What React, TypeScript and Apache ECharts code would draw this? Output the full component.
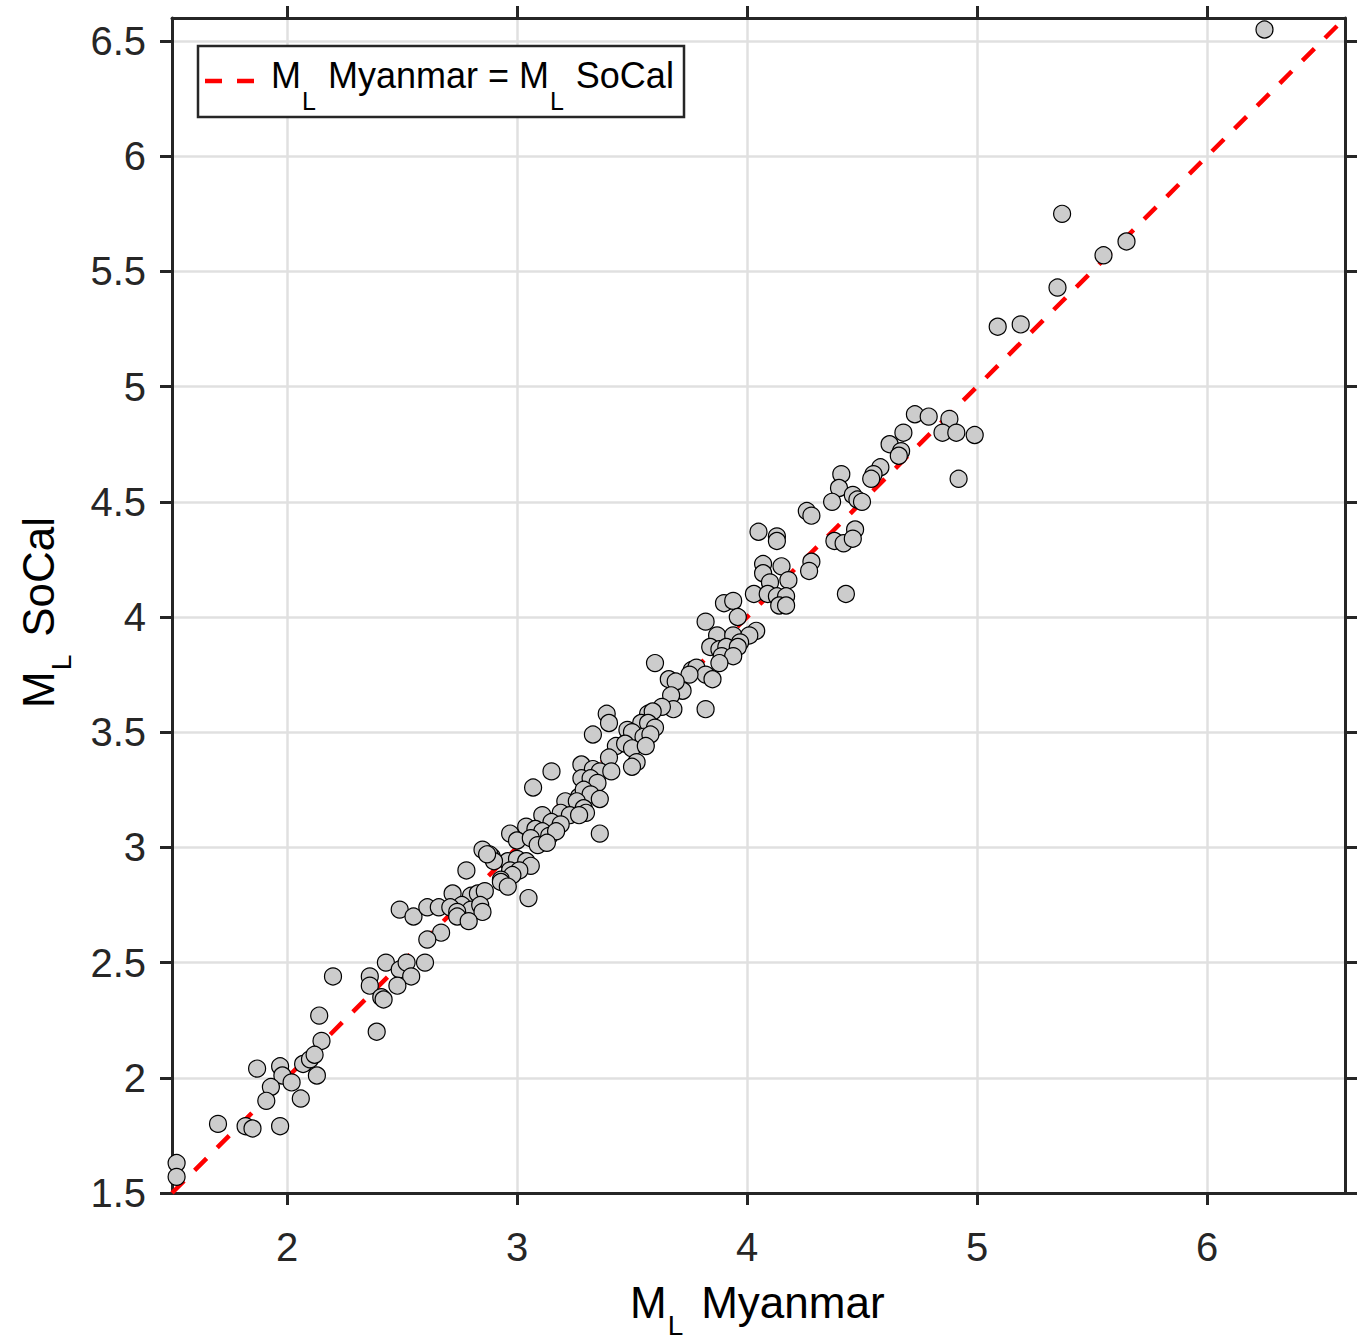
import { useEffect, useRef } from "react";
import * as echarts from "echarts";

// M_L Myanmar (x) and M_L SoCal (y)
const myanmar = [
  6.25, 5.37, 5.65, 5.55, 5.35, 5.09, 5.19, 4.73, 4.79, 4.88, 4.85, 4.91, 4.99, 4.92, 4.68, 4.62, 4.67, 4.66, 4.58, 4.55,
  4.54, 4.41, 4.4, 4.37, 4.46, 4.48, 4.5, 4.26, 4.28, 4.47, 4.05, 4.13, 4.13, 4.38, 4.42, 4.46, 4.28, 4.27, 4.07, 4.07,
  4.15, 4.18, 4.1, 4.03, 4.09, 4.13, 4.17, 4.14, 4.17, 4.43, 3.9, 3.94, 3.96, 3.82, 3.87, 3.94, 4.04, 4.01, 3.97, 3.84,
  3.88, 3.91, 3.96, 3.89, 3.94, 3.88, 3.76, 3.78, 3.82, 3.85, 3.72, 3.82, 3.6, 3.75, 3.66, 3.69, 3.67, 3.68, 3.63, 3.57,
  3.59, 3.39, 3.4, 3.54, 3.57, 3.6, 3.48, 3.5, 3.55, 3.58, 3.33, 3.43, 3.47, 3.5, 3.56, 3.4, 3.52, 3.5, 3.28, 3.33,
  3.36, 3.41, 3.28, 3.32, 3.35, 3.15, 3.07, 3.27, 3.29, 3.32, 3.36, 3.21, 3.26, 3.29, 3.3, 3.19, 3.23, 3.27, 3.11, 3.15,
  3.19, 3.04, 3.08, 3.11, 3.14, 3.17, 2.97, 3.0, 3.06, 3.09, 3.13, 3.36, 2.85, 2.89, 2.96, 3.0, 3.04, 3.06, 2.97, 3.01,
  2.98, 2.93, 2.78, 2.93, 2.96, 3.05, 2.72, 2.8, 2.83, 2.86, 2.76, 2.8, 2.84, 2.85, 2.49, 2.55, 2.61, 2.66, 2.71, 2.74,
  2.74, 2.79, 2.67, 2.61, 2.43, 2.49, 2.52, 2.54, 2.48, 2.6, 2.36, 2.36, 2.41, 2.42, 2.39, 2.2, 2.14, 2.15, 2.07, 2.1,
  2.12, 2.13, 1.87, 1.97, 1.98, 2.02, 1.93, 2.06, 1.91, 1.7, 1.82, 1.85, 1.97, 1.52, 1.52, 2.88, 2.9, 2.87,
];
const socal = [
  6.55, 5.75, 5.63, 5.57, 5.43, 5.26, 5.27, 4.88, 4.87, 4.86, 4.8, 4.8, 4.79, 4.6, 4.8, 4.75, 4.72, 4.7, 4.65, 4.62,
  4.6, 4.62, 4.56, 4.5, 4.53, 4.51, 4.5, 4.46, 4.44, 4.38, 4.37, 4.35, 4.33, 4.33, 4.32, 4.34, 4.24, 4.2, 4.23, 4.19,
  4.22, 4.16, 4.15, 4.1, 4.1, 4.09, 4.09, 4.05, 4.05, 4.1, 4.06, 4.07, 4.0, 3.98, 3.92, 3.92, 3.94, 3.92, 3.89, 3.87,
  3.86, 3.87, 3.87, 3.83, 3.83, 3.8, 3.77, 3.78, 3.75, 3.73, 3.68, 3.6, 3.8, 3.75, 3.73, 3.72, 3.66, 3.6, 3.61, 3.58,
  3.59, 3.58, 3.54, 3.54, 3.54, 3.52, 3.51, 3.5, 3.48, 3.49, 3.49, 3.44, 3.45, 3.43, 3.44, 3.39, 3.37, 3.35, 3.36, 3.34,
  3.33, 3.33, 3.3, 3.3, 3.28, 3.33, 3.26, 3.22, 3.25, 3.23, 3.21, 3.2, 3.2, 3.17, 3.15, 3.15, 3.14, 3.14, 3.14, 3.11,
  3.1, 3.09, 3.08, 3.07, 3.05, 3.07, 3.06, 3.03, 3.04, 3.01, 3.02, 3.06, 2.99, 2.96, 2.94, 2.95, 2.94, 2.92, 2.9, 2.9,
  2.88, 2.86, 2.9, 2.85, 2.83, 2.78, 2.8, 2.79, 2.8, 2.81, 2.75, 2.73, 2.75, 2.72, 2.73, 2.7, 2.74, 2.74, 2.74, 2.72,
  2.7, 2.68, 2.63, 2.6, 2.5, 2.47, 2.5, 2.44, 2.4, 2.5, 2.44, 2.4, 2.35, 2.34, 2.2, 2.44, 2.27, 2.16, 2.06, 2.08,
  2.1, 2.01, 2.04, 2.05, 2.01, 1.98, 1.96, 1.91, 1.9, 1.8, 1.79, 1.78, 1.79, 1.63, 1.57, 2.97, 2.94, 2.97,
];

const xTickValues = [2, 3, 4, 5, 6];
const yTickValues = [1.5, 2, 2.5, 3, 3.5, 4, 4.5, 5, 5.5, 6, 6.5];
const axisRange = [1.5, 6.6];
const legendLabel = "M_L Myanmar = M_L SoCal";

const AX = "#262626";
const FONT = "'Liberation Sans', Arial, sans-serif";

function richLabel(size: number, subSize: number, subDrop: number, gap: number) {
  return {
    m: { fontSize: size, lineHeight: size, fontFamily: FONT, color: AX, verticalAlign: "top" },
    g: { fontSize: size, lineHeight: size, fontFamily: FONT, color: AX, verticalAlign: "top", padding: [0, 0, 0, gap] },
    s: {
      fontSize: subSize,
      lineHeight: Math.round(subSize * 0.8),
      fontFamily: FONT,
      color: AX,
      verticalAlign: "top",
      padding: [subDrop, 0, 0, 1],
    },
  };
}

export default function App() {
  const ref = useRef<HTMLDivElement>(null);
  useEffect(() => {
    if (!ref.current) return;
    const chart = echarts.init(ref.current, null, { renderer: "svg" });
    const points = myanmar.map((x, i) => [x, socal[i]]);
    const axisCommon = (pos: string, labels: boolean, ticks: number[], split: boolean, interval?: number) => ({
      type: "value",
      position: pos,
      min: axisRange[0],
      max: axisRange[1],
      ...(interval ? { interval } : { splitNumber: 5 }),
      axisLine: { show: true, onZero: false, lineStyle: { color: AX, width: 3 } },
      axisTick: { show: true, inside: false, length: 12, customValues: ticks, lineStyle: { color: AX, width: 3 } },
      axisLabel: {
        show: labels,
        customValues: ticks,
        fontSize: 40,
        fontFamily: FONT,
        color: AX,
        margin: pos === "bottom" ? 34 : 26,
        formatter: (v: number) => (ticks.some((t) => Math.abs(t - v) < 1e-9) ? String(v) : ""),
      },
      splitLine: { show: split, lineStyle: { color: "#e0e0e0", width: 2.5 } },
    });
    chart.setOption({
      animation: false,
      backgroundColor: "#ffffff",
      grid: { left: 172, right: 12, top: 18, bottom: 146, containLabel: false },
      xAxis: [
        axisCommon("bottom", true, xTickValues, true),
        axisCommon("top", false, xTickValues, false),
      ],
      yAxis: [
        axisCommon("left", true, yTickValues, true, 0.5),
        axisCommon("right", false, yTickValues, false, 0.5),
      ],
      series: [
        {
          type: "line",
          name: legendLabel,
          data: [
            [axisRange[0], axisRange[0]],
            [axisRange[1], axisRange[1]],
          ],
          symbol: "none",
          silent: true,
          z: 2,
          lineStyle: { color: "#ff0000", width: 4.5, type: [17, 15] },
        },
        {
          type: "scatter",
          data: points,
          symbol: "circle",
          symbolSize: 17,
          z: 3,
          itemStyle: { color: "#cccccc", borderColor: "#000000", borderWidth: 1.2, opacity: 1 },
        },
      ],
      graphic: [
        {
          type: "rect",
          z: 100,
          shape: { x: 198, y: 46, width: 486, height: 71 },
          style: { fill: "#ffffff", stroke: AX, lineWidth: 2.5 },
        },
        {
          type: "line",
          z: 101,
          shape: { x1: 205, y1: 81, x2: 254, y2: 81 },
          style: { stroke: "#ff0000", lineWidth: 4.5, lineDash: [17, 15] },
        },
        {
          type: "text",
          z: 101,
          x: 271,
          y: 57.5,
          style: {
            text: "{m|M}{s|L}{g|Myanmar = M}{s|L}{g|SoCal}",
            rich: richLabel(36, 25, 30.5, 12),
            align: "left",
            verticalAlign: "top",
          },
        },
        {
          type: "text",
          z: 101,
          x: 630,
          y: 1280,
          style: {
            text: "{m|M}{s|L}{g|Myanmar}",
            rich: richLabel(44, 28, 31, 18),
            align: "left",
            verticalAlign: "top",
          },
        },
        {
          type: "text",
          z: 101,
          x: 16,
          y: 708,
          rotation: Math.PI / 2,
          style: {
            text: "{m|M}{s|L}{g|SoCal}",
            rich: richLabel(44, 28, 31, 18),
            align: "left",
            verticalAlign: "top",
          },
        },
      ],
    });
    return () => chart.dispose();
  }, []);
  return <div ref={ref} style={{ position: "absolute", left: 0, top: 0, width: 1357, height: 1339 }} />;
}
